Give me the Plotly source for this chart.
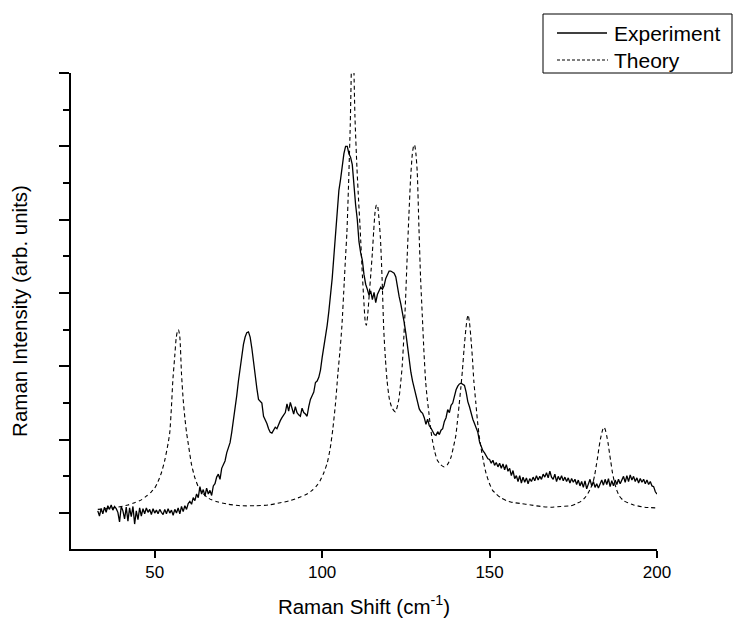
import plotly.graph_objects as go

# Experimental spectrum (Raman shift in cm^-1, intensity in arb. units)
exp_x = [
    33.0, 33.5, 34.0, 34.5, 35.0, 35.5, 36.0, 36.5, 37.0, 37.5,
    38.0, 38.5, 39.0, 39.5, 40.0, 40.5, 41.0, 41.5, 42.0, 42.5,
    43.0, 43.5, 44.0, 44.5, 45.0, 45.5, 46.0, 46.5, 47.0, 47.5,
    48.0, 48.5, 49.0, 49.5, 50.0, 50.5, 51.0, 51.5, 52.0, 52.5,
    53.0, 53.5, 54.0, 54.5, 55.0, 55.5, 56.0, 56.5, 57.0, 57.5,
    58.0, 58.5, 59.0, 59.5, 60.0, 60.5, 61.0, 61.5, 62.0, 62.5,
    63.0, 63.5, 64.0, 64.5, 65.0, 65.5, 66.0, 66.5, 67.0, 67.5,
    68.0, 68.5, 69.0, 69.5, 70.0, 70.5, 71.0, 71.5, 72.0, 72.5,
    73.0, 73.5, 74.0, 74.5, 75.0, 75.5, 76.0, 76.5, 77.0, 77.5,
    78.0, 78.5, 79.0, 79.5, 80.0, 80.5, 81.0, 81.5, 82.0, 82.5,
    83.0, 83.5, 84.0, 84.5, 85.0, 85.5, 86.0, 86.5, 87.0, 87.5,
    88.0, 88.5, 89.0, 89.5, 90.0, 90.5, 91.0, 91.5, 92.0, 92.5,
    93.0, 93.5, 94.0, 94.5, 95.0, 95.5, 96.0, 96.5, 97.0, 97.5,
    98.0, 98.5, 99.0, 99.5, 100.0, 100.5, 101.0, 101.5, 102.0, 102.5,
    103.0, 103.5, 104.0, 104.5, 105.0, 105.5, 106.0, 106.5, 107.0, 107.5,
    108.0, 108.5, 109.0, 109.5, 110.0, 110.5, 111.0, 111.5, 112.0, 112.5,
    113.0, 113.5, 114.0, 114.5, 115.0, 115.5, 116.0, 116.5, 117.0, 117.5,
    118.0, 118.5, 119.0, 119.5, 120.0, 120.5, 121.0, 121.5, 122.0, 122.5,
    123.0, 123.5, 124.0, 124.5, 125.0, 125.5, 126.0, 126.5, 127.0, 127.5,
    128.0, 128.5, 129.0, 129.5, 130.0, 130.5, 131.0, 131.5, 132.0, 132.5,
    133.0, 133.5, 134.0, 134.5, 135.0, 135.5, 136.0, 136.5, 137.0, 137.5,
    138.0, 138.5, 139.0, 139.5, 140.0, 140.5, 141.0, 141.5, 142.0, 142.5,
    143.0, 143.5, 144.0, 144.5, 145.0, 145.5, 146.0, 146.5, 147.0, 147.5,
    148.0, 148.5, 149.0, 149.5, 150.0, 150.5, 151.0, 151.5, 152.0, 152.5,
    153.0, 153.5, 154.0, 154.5, 155.0, 155.5, 156.0, 156.5, 157.0, 157.5,
    158.0, 158.5, 159.0, 159.5, 160.0, 160.5, 161.0, 161.5, 162.0, 162.5,
    163.0, 163.5, 164.0, 164.5, 165.0, 165.5, 166.0, 166.5, 167.0, 167.5,
    168.0, 168.5, 169.0, 169.5, 170.0, 170.5, 171.0, 171.5, 172.0, 172.5,
    173.0, 173.5, 174.0, 174.5, 175.0, 175.5, 176.0, 176.5, 177.0, 177.5,
    178.0, 178.5, 179.0, 179.5, 180.0, 180.5, 181.0, 181.5, 182.0, 182.5,
    183.0, 183.5, 184.0, 184.5, 185.0, 185.5, 186.0, 186.5, 187.0, 187.5,
    188.0, 188.5, 189.0, 189.5, 190.0, 190.5, 191.0, 191.5, 192.0, 192.5,
    193.0, 193.5, 194.0, 194.5, 195.0, 195.5, 196.0, 196.5, 197.0, 197.5,
    198.0, 198.5, 199.0, 199.5, 200.0,
]
exp_y = [
    0.03, -0.04, 0.06, -0.01, 0.08, 0.01, 0.1, 0.05, 0.11, 0.04,
    0.09, 0.06, 0.01, -0.12, 0.09, 0.03, -0.08, 0.08, -0.11, 0.07,
    -0.05, 0.09, -0.15, 0.03, -0.09, 0.07, -0.04, 0.06, -0.01, 0.07,
    0.01, 0.05, -0.02, 0.06, 0.0, 0.04, -0.01, 0.05, 0.01, -0.02,
    0.05, -0.01, 0.06, 0.0, 0.04, -0.03, 0.05, 0.0, 0.07, -0.01,
    0.09, 0.02, 0.1, 0.05, 0.13, 0.16, 0.12, 0.21, 0.17, 0.26,
    0.21, 0.36, 0.26, 0.32, 0.23, 0.34, 0.26, 0.31, 0.24, 0.37,
    0.4, 0.49, 0.53, 0.46, 0.61, 0.66, 0.71, 0.82, 0.88, 0.96,
    1.1, 1.25, 1.45, 1.6, 1.8, 1.98, 2.15, 2.3, 2.4, 2.46,
    2.47, 2.4, 2.25, 2.05, 1.88, 1.7, 1.55, 1.52, 1.5, 1.32,
    1.28, 1.22, 1.15, 1.1, 1.09, 1.14, 1.17, 1.15, 1.22, 1.26,
    1.3, 1.33, 1.37, 1.49, 1.39, 1.51, 1.44, 1.35, 1.45, 1.37,
    1.34, 1.32, 1.43, 1.37, 1.35, 1.32, 1.45, 1.55, 1.6, 1.65,
    1.78, 1.8, 1.85, 1.95, 2.12, 2.25, 2.4, 2.56, 2.75, 2.95,
    3.2, 3.5, 3.85, 4.2, 4.4, 4.55, 4.75, 4.9, 5.0, 5.0,
    4.9, 4.85, 4.75, 4.45, 4.2, 4.0, 3.7, 3.55, 3.45, 3.25,
    3.12, 3.05, 2.97, 3.03, 2.91, 3.01, 2.87, 2.98, 3.02, 3.08,
    3.05, 3.1, 3.2, 3.26, 3.3, 3.3, 3.29, 3.27, 3.22, 3.05,
    2.95, 2.85, 2.74, 2.6, 2.45, 2.25, 2.05, 1.92, 1.8, 1.7,
    1.58, 1.5, 1.42, 1.38, 1.36, 1.3, 1.21, 1.28, 1.19, 1.16,
    1.12, 1.07, 1.06, 1.11, 1.07, 1.13, 1.15, 1.25, 1.3, 1.41,
    1.37, 1.47, 1.5, 1.6, 1.68, 1.73, 1.76, 1.77, 1.76, 1.74,
    1.65, 1.52, 1.45, 1.35, 1.28, 1.22, 1.15, 1.1, 0.97, 0.9,
    0.85, 0.82, 0.78, 0.74, 0.73, 0.68, 0.72, 0.65, 0.69, 0.63,
    0.68, 0.61, 0.67, 0.59, 0.66, 0.57, 0.61, 0.51, 0.58, 0.47,
    0.51, 0.43, 0.51, 0.41, 0.49, 0.42, 0.48, 0.4, 0.47, 0.43,
    0.49, 0.44, 0.51, 0.45, 0.5, 0.46, 0.53, 0.49, 0.55, 0.48,
    0.57, 0.49, 0.46, 0.53, 0.43, 0.5, 0.45, 0.51, 0.44, 0.49,
    0.43, 0.48, 0.41, 0.47, 0.42, 0.46, 0.39, 0.45, 0.37, 0.43,
    0.35, 0.44, 0.33, 0.41, 0.46, 0.37, 0.43, 0.35, 0.4, 0.34,
    0.41, 0.45, 0.38, 0.46, 0.39, 0.47, 0.36, 0.44, 0.37, 0.45,
    0.39, 0.46, 0.4, 0.45, 0.5, 0.42, 0.51, 0.43, 0.52, 0.45,
    0.5, 0.43, 0.48, 0.41, 0.47, 0.42, 0.46, 0.4, 0.45, 0.39,
    0.43, 0.37, 0.36, 0.29, 0.26,
]

# Theoretical spectrum
th_x = [
    33, 36, 39, 42, 44, 46, 47.5, 49, 50, 51, 52, 53, 54, 54.5, 55, 55.4,
    56, 56.4, 56.8, 57.1, 57.5, 58, 58.5, 59, 59.5, 60, 60.5, 61, 62, 63,
    64, 65.5, 67, 69, 72, 75.5, 80, 84, 87.5, 90.5, 93.5, 95.5, 97, 98.5,
    99.5, 100.5, 101.5, 102.4, 103.2, 104, 104.7, 105.3, 105.9, 106.6, 107,
    107.4, 107.9, 108.4, 108.8, 109.1, 109.4, 109.8, 110.4, 110.9, 111.4,
    111.9, 112.4, 112.9, 113.2, 113.6, 114.1, 114.6, 115, 115.4, 115.8,
    116.2, 116.5, 116.9, 117.4, 117.9, 118.4, 118.9, 119.4, 120.1, 120.9,
    121.9, 122.9, 123.4, 123.9, 124.4, 124.9, 125.4, 125.9, 126.4, 126.9,
    127.3, 127.6, 128, 128.4, 128.9, 129.4, 129.9, 130.4, 130.9, 131.4,
    131.9, 132.4, 132.9, 133.6, 134.4, 135.4, 136.4, 137.4, 138.4, 139.2,
    139.9, 140.4, 140.9, 141.4, 141.9, 142.4, 142.9, 143.3, 143.6, 144,
    144.4, 144.9, 145.3, 145.9, 146.4, 146.9, 147.4, 148.2, 148.9, 149.9,
    150.9, 152, 153.3, 155, 156.3, 159.3, 162.3, 165.3, 168.3, 171.3,
    174.3, 176, 177.3, 178.5, 179.4, 180.2, 180.9, 181.4, 181.8, 182.3,
    182.7, 183.2, 183.8, 184.2, 184.6, 185, 185.4, 185.8, 186.2, 186.7,
    187.3, 188, 188.8, 190, 191.3, 193, 196.3, 200,
]
th_y = [
    0.05, 0.06, 0.08, 0.11, 0.14, 0.18, 0.23, 0.29, 0.34, 0.43, 0.55, 0.72,
    0.95, 1.1, 1.45, 1.8,
    2.15, 2.38, 2.48, 2.5, 2.4, 1.9, 1.55, 1.3, 1.1, 0.95, 0.8, 0.66, 0.48, 0.36,
    0.29, 0.22, 0.18, 0.15, 0.12, 0.1, 0.1, 0.11, 0.14, 0.17, 0.22, 0.26, 0.31, 0.38,
    0.45, 0.55, 0.68, 0.88, 1.15, 1.5, 1.9, 2.2, 2.55, 3.15, 3.5,
    3.83, 4.5, 5.3, 6.2, 6.5, 6.2, 5.4, 4.7, 4.25, 3.83,
    3.35, 2.93, 2.6, 2.56, 2.7, 3.0, 3.3, 3.55, 3.85, 4.1,
    4.2, 4.2, 4.05, 3.75, 3.2, 2.5, 2.1, 1.8, 1.55, 1.43,
    1.38, 1.55, 1.75, 2.0, 2.4, 2.9, 3.5, 4.05, 4.55, 4.88,
    5.0, 5.02, 4.9, 4.65, 3.9, 3.2, 2.7, 2.2, 1.8, 1.55,
    1.36, 1.15, 1.0, 0.84, 0.72, 0.66, 0.63, 0.66, 0.75, 0.9,
    1.05, 1.25, 1.47, 1.7, 1.95, 2.25, 2.5, 2.65, 2.7, 2.6,
    2.4, 2.1, 1.8, 1.5, 1.25, 1.05, 0.9, 0.7, 0.55, 0.41,
    0.31, 0.26, 0.21, 0.17, 0.15, 0.13, 0.11, 0.09, 0.08, 0.09,
    0.1, 0.13, 0.16, 0.21, 0.27, 0.34, 0.42, 0.52, 0.63, 0.77,
    0.9, 1.03, 1.14, 1.17, 1.13, 1.05, 0.95, 0.82, 0.7, 0.55,
    0.42, 0.31, 0.23, 0.17, 0.14, 0.11, 0.08, 0.07,
]

series_names = ["Experiment", "Theory"]
x_ticks = [50, 100, 150, 200]
x_tick_labels = ["50", "100", "150", "200"]

FONT = "Arial, 'Liberation Sans', sans-serif"
EXP_LINE = dict(color="black", width=1.3)
TH_LINE = dict(color="black", width=1.1, dash="4px,3px")

W, H = 733, 626
ML, MR, MT, MB = 71, 76, 73, 77
PW, PH = W - ML - MR, H - MT - MB


def px_x(p):
    """pixel column -> paper x"""
    return (p - ML) / PW


def px_y(p):
    """pixel row -> paper y"""
    return (H - MB - p) / PH


fig = go.Figure()
fig.add_trace(go.Scatter(
    x=exp_x, y=exp_y, mode="lines", name=series_names[0],
    line=EXP_LINE, showlegend=False,
))
fig.add_trace(go.Scatter(
    x=th_x, y=th_y, mode="lines", name=series_names[1],
    line=dict(**TH_LINE, shape="spline", smoothing=0.6), showlegend=False,
))

# legend drawn as a framed box with real text
shapes = [
    dict(type="rect", xref="paper", yref="paper",
         x0=px_x(543), x1=px_x(732), y0=px_y(73), y1=px_y(14),
         line=dict(color="black", width=1), fillcolor="white", layer="above"),
    dict(type="line", xref="paper", yref="paper",
         x0=px_x(557), x1=px_x(607), y0=px_y(33), y1=px_y(33),
         line=EXP_LINE, layer="above"),
    dict(type="line", xref="paper", yref="paper",
         x0=px_x(557), x1=px_x(608), y0=px_y(60), y1=px_y(60),
         line=dict(color="black", width=1.1, dash="3px,2px"), layer="above"),
]
annotations = [
    dict(text=series_names[0], xref="paper", yref="paper",
         x=px_x(612), y=px_y(33), xanchor="left", yanchor="middle",
         showarrow=False, font=dict(family=FONT, size=21, color="black")),
    dict(text=series_names[1], xref="paper", yref="paper",
         x=px_x(612), y=px_y(60), xanchor="left", yanchor="middle",
         showarrow=False, font=dict(family=FONT, size=21, color="black")),
]

fig.update_layout(
    width=W, height=H, autosize=False,
    margin=dict(l=ML, r=MR, t=MT, b=MB),
    paper_bgcolor="white", plot_bgcolor="white",
    font=dict(family=FONT, color="black", size=17),
    showlegend=False,
    shapes=shapes,
    annotations=annotations,
    xaxis=dict(
        range=[25, 200], showgrid=False, zeroline=False,
        showline=True, linecolor="black", linewidth=2,
        ticks="outside", ticklen=7, tickwidth=1.5, tickcolor="black",
        tickvals=x_ticks, ticktext=x_tick_labels,
        tickfont=dict(family=FONT, size=17, color="black"),
        title=dict(text="Raman Shift (cm<sup>-1</sup>)",
                   font=dict(family=FONT, size=20.5, color="black"), standoff=18),
    ),
    yaxis=dict(
        range=[-0.49, 6.0], showgrid=False, zeroline=False,
        showline=True, linecolor="black", linewidth=2,
        ticks="outside", ticklen=10, tickwidth=1.5, tickcolor="black",
        tick0=0, dtick=1, showticklabels=False,
        minor=dict(ticks="outside", ticklen=6, tickwidth=1.5, tickcolor="black",
                   tick0=0.5, dtick=1, showgrid=False),
        title=dict(text="Raman Intensity (arb. units)",
                   font=dict(family=FONT, size=20.5, color="black"), standoff=26),
    ),
)

fig.write_html("out.html", config={"responsive": False},
               default_width="733px", default_height="626px")
